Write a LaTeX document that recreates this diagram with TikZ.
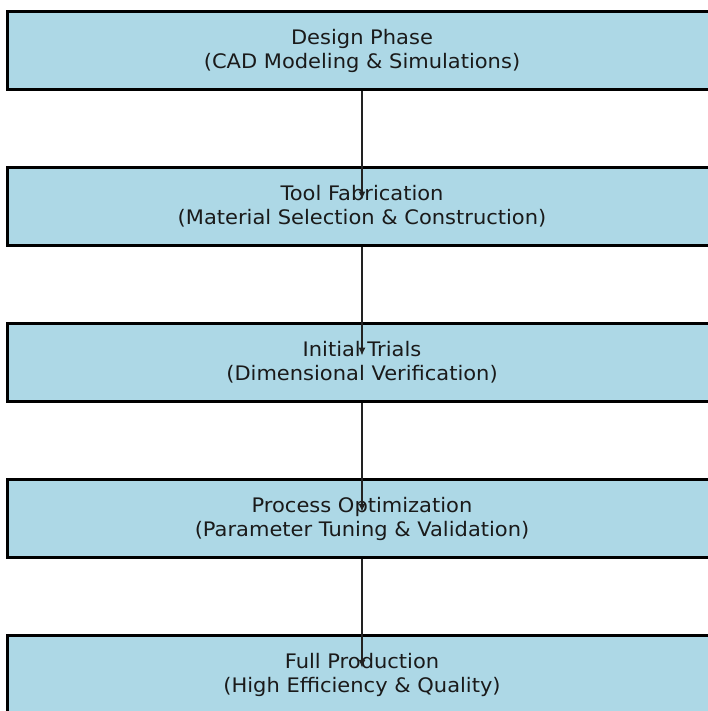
\documentclass[tikz,border=0pt]{standalone}
\usepackage{fontspec}
\setmainfont[FakeStretch=1.05]{DejaVu Sans}
\usetikzlibrary{arrows.meta}
\definecolor{boxblue}{HTML}{ADD8E6}
\definecolor{textdark}{HTML}{1A1A1A}
\definecolor{arrowdark}{HTML}{222222}
\begin{document}
\begin{tikzpicture}[x=1pt,y=-1pt,
  stage/.style={draw=black, line width=3pt, fill=boxblue, minimum width=710pt,
    minimum height=78pt, inner sep=0pt, align=center,
    font=\fontsize{20}{24}\selectfont, text=textdark},
  flow/.style={-{Latex[length=8pt,width=7pt]}, line width=1.6pt, draw=arrowdark}]
\useasboundingbox (0,0) rectangle (708,711);
\clip (0,0) rectangle (708,711);
\node[stage] (b1) at (362,50.5) {Design Phase\\(CAD Modeling \& Simulations)};
\node[stage] (b2) at (362,206.6) {Tool Fabrication\\(Material Selection \& Construction)};
\node[stage] (b3) at (362,362.7) {Initial Trials\\(Dimensional Verification)};
\node[stage] (b4) at (362,518.8) {Process Optimization\\(Parameter Tuning \& Validation)};
\node[stage] (b5) at (362,674.9) {Full Production\\(High Efficiency \& Quality)};
\coordinate (t2) at ([yshift=7pt]b2.center);
\coordinate (t3) at ([yshift=7pt]b3.center);
\coordinate (t4) at ([yshift=7pt]b4.center);
\coordinate (t5) at ([yshift=7pt]b5.center);
\draw[flow] (b1.south) -- (t2);
\draw[flow] (b2.south) -- (t3);
\draw[flow] (b3.south) -- (t4);
\draw[flow] (b4.south) -- (t5);
\end{tikzpicture}
\end{document}
